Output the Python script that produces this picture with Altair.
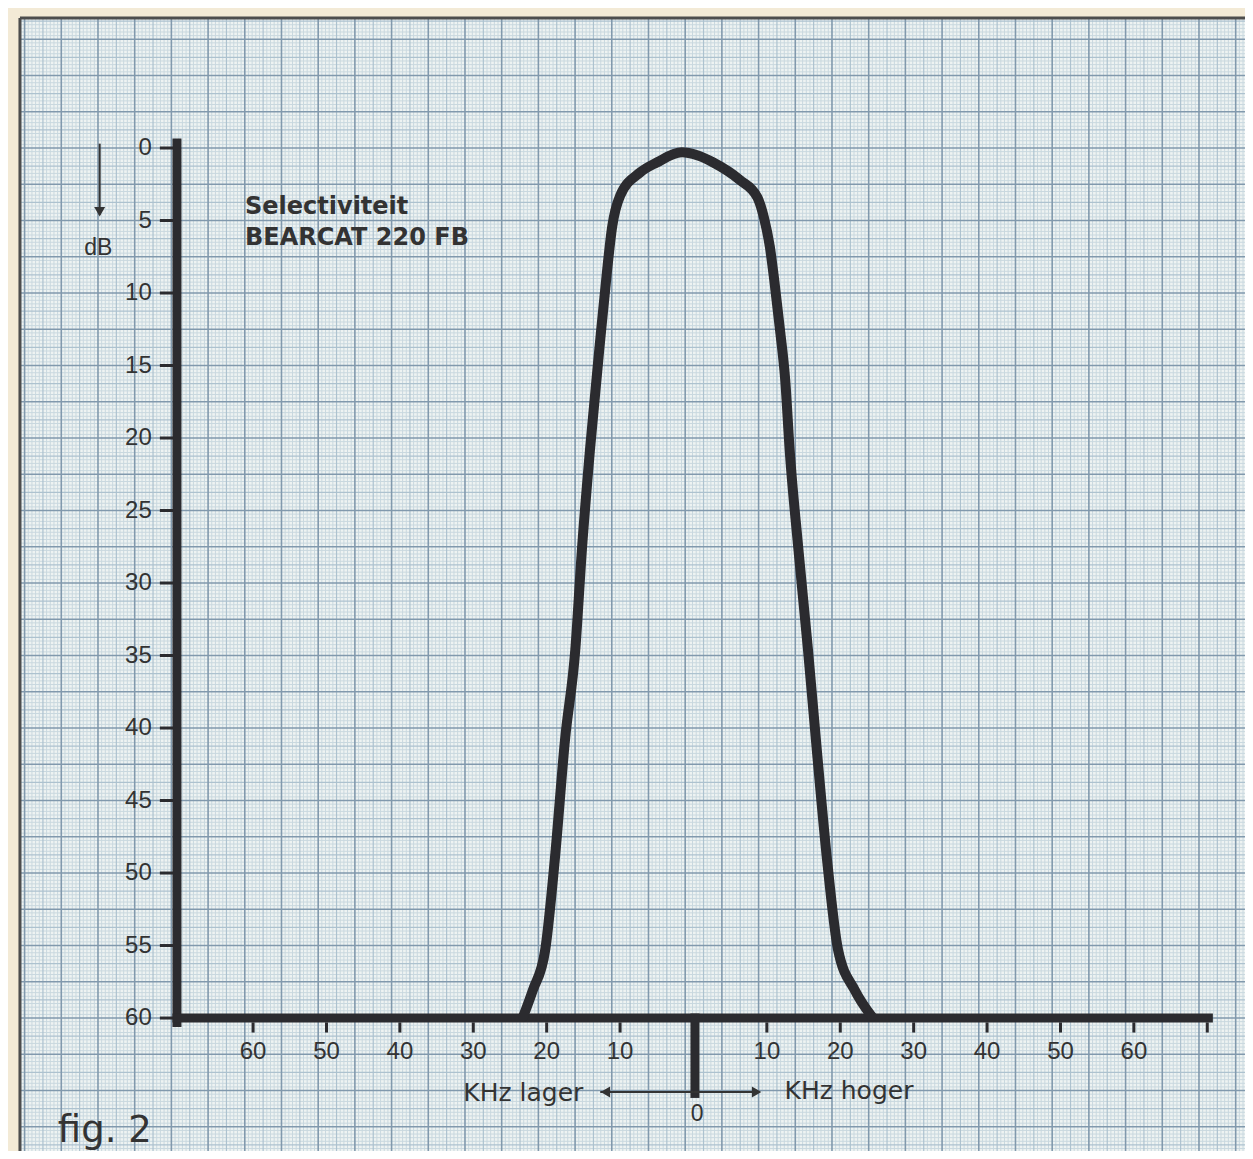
import altair as alt
import pandas as pd
import numpy as np

# ---- data ----
left_khz = [-23.2, -21.9, -20.2, -18.9, -17.5, -16.1, -15.2, -14.1, -12.7, -11.8, -11.1, -10.0, -7.3, -5.0, -1.6]
left_db = [59.9, 58.1, 55.3, 49.1, 40.8, 34.6, 27.7, 20.8, 13.2, 8.6, 5.5, 3.3, 1.7, 1.0, 0.3]
right_khz = [0.5, 2.7, 6.3, 8.7, 9.6, 10.4, 11.0, 11.8, 12.5, 13.1, 14.3, 15.6, 16.8, 18.2, 19.7, 22.0, 24.3]
right_db = [0.5, 1.0, 2.2, 3.4, 4.8, 6.8, 9.1, 12.6, 16.0, 20.8, 27.7, 34.6, 41.5, 49.1, 55.3, 58.1, 59.9]

y_ticks = [0, 5, 10, 15, 20, 25, 30, 35, 40, 45, 50, 55, 60]
x_ticks = [-60, -50, -40, -30, -20, -10, 10, 20, 30, 40, 50, 60, 70]
x_tick_labels = ["60", "50", "40", "30", "20", "10", "10", "20", "30", "40", "50", "60", ""]

title_lines = ["Selectiviteit", "BEARCAT 220 FB"]

# ---- geometry / style ----
W, H = 1237, 1143
X0, X1 = -93.39, 75.14
Y0, Y1 = -9.655, 69.17
PX0, PY0 = -91.76, -8.97  # paper top-left
CREAM = "#f3ead6"
PAPER = "#eef3f2"
INK = "#2b2b2f"
TXT = "#333333"

xs = alt.Scale(domain=[X0, X1], nice=False, zero=False)
ys = alt.Scale(domain=[Y0, Y1], nice=False, zero=False, reverse=True)


def X(f):
    return alt.X(f, type="quantitative", scale=xs, axis=None)


def Y(f):
    return alt.Y(f, type="quantitative", scale=ys, axis=None)


# paper background
paper = alt.Chart(pd.DataFrame({"x": [PX0], "x2": [X1], "y": [PY0], "y2": [Y1]})).mark_rect(
    color=PAPER
).encode(x=X("x"), x2="x2", y=Y("y"), y2="y2")

# graph-paper grid
phase = -1.13
n_lo = int(np.ceil((PX0 - phase) / 0.5))
n_hi = int(np.floor((X1 - phase) / 0.5))
vn = np.arange(n_lo, n_hi + 1)
m_lo = int(np.ceil(PY0 / 0.25))
m_hi = int(np.floor(Y1 / 0.25))
hm = np.arange(m_lo, m_hi + 1)


def vlines(sel, color, width):
    d = pd.DataFrame({"x": phase + 0.5 * vn[sel], "y": PY0, "y2": Y1})
    return alt.Chart(d).mark_rule(color=color, strokeWidth=width).encode(x=X("x"), y=Y("y"), y2="y2")


def hlines(sel, color, width):
    d = pd.DataFrame({"y": 0.25 * hm[sel], "x": PX0, "x2": X1})
    return alt.Chart(d).mark_rule(color=color, strokeWidth=width).encode(y=Y("y"), x=X("x"), x2="x2")


fine_v = vlines((vn % 5) != 0, "#c9d8df", 1)
fine_h = hlines((hm % 5) != 0, "#c9d8df", 1)
med_v = vlines(((vn % 5) == 0) & ((vn % 10) != 0), "#adc2cf", 1.2)
med_h = hlines(((hm % 5) == 0) & ((hm % 10) != 0), "#adc2cf", 1.2)
maj_v = vlines((vn % 10) == 0, "#8199ad", 1.6)
maj_h = hlines((hm % 10) == 0, "#8199ad", 1.6)

# paper border
border = alt.Chart(pd.DataFrame({
    "x": [PX0, PX0], "x2": [X1, PX0], "y": [PY0, PY0], "y2": [PY0, Y1]
})).mark_rule(color="#4d4d4d", strokeWidth=3).encode(x=X("x"), x2="x2", y=Y("y"), y2="y2")

# thick axes
axes_df = pd.DataFrame({
    "x": [-70.37, -70.37, 0.2],
    "x2": [-70.37, 70.15, 0.2],
    "y": [-0.35, 60.0, 60.0],
    "y2": [60.3, 60.0, 65.2],
})
axes_lines = alt.Chart(axes_df).mark_rule(color=INK, strokeWidth=9, strokeCap="square").encode(
    x=X("x"), x2="x2", y=Y("y"), y2="y2"
)

# tick marks
ytick_df = pd.DataFrame({"y": y_ticks, "x": -72.7, "x2": -70.9})
ytick_marks = alt.Chart(ytick_df).mark_rule(color=INK, strokeWidth=3).encode(
    y=Y("y"), x=X("x"), x2="x2"
)
xtick_df = pd.DataFrame({"x": x_ticks, "y": 60.3, "y2": 61.0})
xtick_marks = alt.Chart(xtick_df).mark_rule(color=INK, strokeWidth=3).encode(
    x=X("x"), y=Y("y"), y2="y2"
)

# tick labels
ylab_df = pd.DataFrame({"y": y_ticks, "x": -73.8, "t": [str(v) for v in y_ticks]})
ylabels = alt.Chart(ylab_df).mark_text(
    font="Liberation Sans", fontSize=24, color=TXT, align="right", baseline="middle"
).encode(x=X("x"), y=Y("y"), text="t:N")
xlab_df = pd.DataFrame({"x": x_ticks, "y": 62.35, "t": x_tick_labels})
xlabels = alt.Chart(xlab_df).mark_text(
    font="Liberation Sans", fontSize=24, color=TXT, align="center", baseline="middle"
).encode(x=X("x"), y=Y("y"), text="t:N")

# arrows under the axis and dB arrow
arrow_df = pd.DataFrame({
    "x": [-12.7, 0.0, -80.9],
    "x2": [0.0, 9.0, -80.9],
    "y": [65.1, 65.1, -0.3],
    "y2": [65.1, 65.1, 4.6],
})
arrow_lines = alt.Chart(arrow_df).mark_rule(color=TXT, strokeWidth=2).encode(
    x=X("x"), x2="x2", y=Y("y"), y2="y2"
)
heads_df = pd.DataFrame({
    "x": [-12.0, 8.6, -80.9],
    "y": [65.1, 65.1, 4.4],
    "s": ["triangle-left", "triangle-right", "triangle-down"],
})
heads = alt.Chart(heads_df).mark_point(filled=True, color=TXT, opacity=1, size=120).encode(
    x=X("x"), y=Y("y"),
    shape=alt.Shape("s:N", scale=alt.Scale(domain=["triangle-left", "triangle-right", "triangle-down"],
                                            range=["triangle-left", "triangle-right", "triangle-down"]),
                    legend=None),
)

# selectivity curve
curve_df = pd.DataFrame({
    "khz": left_khz + right_khz,
    "db": left_db + right_db,
    "i": list(range(len(left_khz) + len(right_khz))),
})
curve = alt.Chart(curve_df).mark_line(
    color=INK, strokeWidth=10, strokeJoin="round", strokeCap="round", interpolate="monotone"
).encode(x=X("khz"), y=Y("db"), order="i:Q")

# texts
title_df = pd.DataFrame({"t": title_lines, "x": [-61.1, -61.1], "y": [4.1, 6.2]})
title = alt.Chart(title_df).mark_text(
    font="DejaVu Sans", fontWeight="bold", fontSize=24, color=TXT, align="left", baseline="middle"
).encode(x=X("x"), y=Y("y"), text="t:N")

lab_df = pd.DataFrame({"t": ["KHz lager", "KHz hoger"], "x": [-15.0, 12.4], "y": [65.2, 65.0]})
lab_l = alt.Chart(lab_df.iloc[[0]]).mark_text(
    font="DejaVu Sans", fontSize=25, color=TXT, align="right", baseline="middle"
).encode(x=X("x"), y=Y("y"), text="t:N")
lab_r = alt.Chart(lab_df.iloc[[1]]).mark_text(
    font="DejaVu Sans", fontSize=25, color=TXT, align="left", baseline="middle"
).encode(x=X("x"), y=Y("y"), text="t:N")

small_df = pd.DataFrame({"t": ["0", "dB"], "x": [0.5, -81.1], "y": [66.6, 6.9]})
small = alt.Chart(small_df).mark_text(
    font="Liberation Sans", fontSize=23, color=TXT, align="center", baseline="middle"
).encode(x=X("x"), y=Y("y"), text="t:N")

fig_df = pd.DataFrame({"t": ["fig. 2"], "x": [-86.6], "y": [67.8]})
fig = alt.Chart(fig_df).mark_text(
    font="DejaVu Sans", fontSize=37, color="#333333", align="left", baseline="middle"
).encode(x=X("x"), y=Y("y"), text="t:N")

chart = alt.layer(
    paper, fine_v, fine_h, med_v, med_h, maj_v, maj_h, border,
    axes_lines, ytick_marks, xtick_marks, ylabels, xlabels,
    arrow_lines, heads, curve, title, lab_l, lab_r, small, fig
).properties(
    width=W, height=H, autosize=alt.AutoSizeParams(type="none"), padding=0, background=CREAM
).configure_view(stroke=None)

chart.save("out.html", embed_options={"renderer": "svg", "actions": False})
